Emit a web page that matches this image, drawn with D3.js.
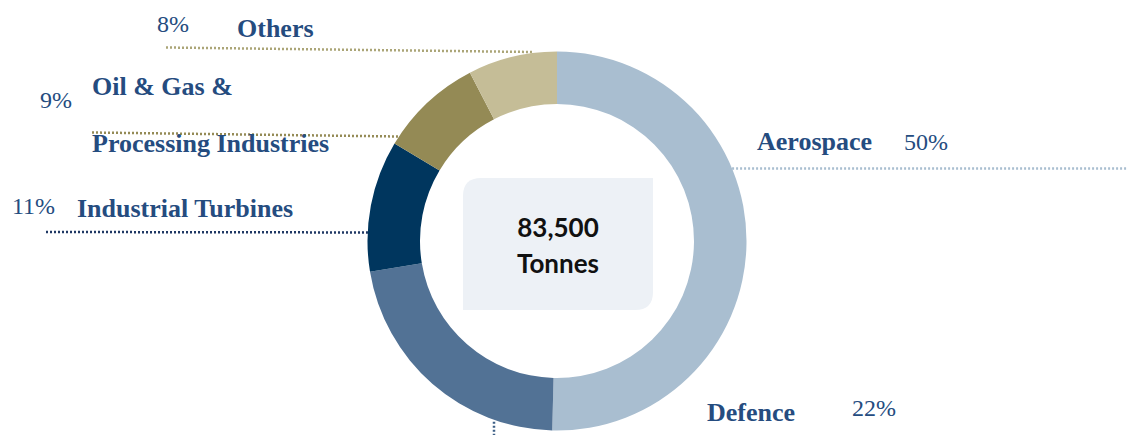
<!DOCTYPE html>
<html>
<head>
<meta charset="utf-8">
<script src="https://cdn.jsdelivr.net/npm/d3@7"></script>
<style>
  body { margin: 0; background: #fff; }
  svg { display: block; }
</style>
</head>
<body>
<div id="chart"></div>
<script>
// Data
var sectors = ["Aerospace", "Defence", "Industrial Turbines", "Oil & Gas & Processing Industries", "Others"];
var shares = [50.4, 22.0, 11.2, 8.8, 7.6];
var colors = ["#a9bed0", "#527295", "#00365e", "#948a55", "#c5bd97"];
var totalLabel = ["83,500", "Tonnes"];

var width = 1127;
var height = 435;
var cx = 557, cy = 241;
var outerR = 189.5, innerR = 137;
var labelColor = "#254c7f";

// label layout: text lines, percentage, leader line
var layout = [
    { lines: [{ t: "Aerospace", x: 757, y: 150 }], pct: { x: 904, y: 150 },
      leader: { y1: 168.5, y2: 168.5, far: 1127, side: "right", lineColor: "#a9bed0" } },
    { lines: [{ t: "Defence", x: 707, y: 421 }], pct: { x: 852, y: 416 },
      leader: { vertical: true, x: 494, y2: 436, lineColor: "#3d5f86" } },
    { lines: [{ t: "Industrial Turbines", x: 77, y: 217 }], pct: { x: 12, y: 214 },
      leader: { y1: 232, y2: 232.5, far: 46, side: "left", inset: 25, lineColor: "#1f3864" } },
    { lines: [{ t: "Oil & Gas &", x: 92, y: 95 }, { t: "Processing Industries", x: 92, y: 152 }], pct: { x: 40, y: 108 },
      leader: { y1: 132.5, y2: 136.5, far: 92, side: "left", lineColor: "#948a55" } },
    { lines: [{ t: "Others", x: 237, y: 37 }], pct: { x: 157, y: 32 },
      leader: { y1: 47.5, y2: 52, far: 166, side: "left", inset: -11, lineColor: "#aba577" } }
];

var svg = d3.select("#chart").append("svg")
    .attr("width", width)
    .attr("height", height);

var data = sectors.map(function(s, i) {
    return { sector: s, share: shares[i], color: colors[i], lay: layout[i] };
});

// point on outer ring at a given y
function ringX(y, side) {
    var dy = y - cy;
    var dx = Math.sqrt(Math.max(0, outerR * outerR - dy * dy));
    return side === "left" ? cx - dx : cx + dx;
}

// Leader lines (behind the ring)
var leaders = svg.append("g").attr("class", "leaders");
data.forEach(function(d) {
    var L = d.lay.leader;
    var x1, y1, x2, y2;
    if (L.vertical) {
        x1 = L.x; x2 = L.x;
        y1 = cy + Math.sqrt(outerR * outerR - (L.x - cx) * (L.x - cx)) + 2;
        y2 = L.y2;
    } else {
        x1 = L.far; y1 = L.y1;
        x2 = ringX(L.y2, L.side) + (L.side === "left" ? (L.inset || 0) : -(L.inset || 0));
        y2 = L.y2;
        if (L.side === "right") { var t = x1; x1 = x2; x2 = t; }
    }
    leaders.append("line")
        .attr("x1", x1).attr("y1", y1)
        .attr("x2", x2).attr("y2", y2)
        .attr("stroke", L.lineColor)
        .attr("stroke-width", 2.5)
        .attr("stroke-dasharray", "2,2");
});

// Donut
var pie = d3.pie().sort(null).value(function(d) { return d.share; });
var arc = d3.arc().innerRadius(innerR).outerRadius(outerR);

svg.append("g")
    .attr("transform", "translate(" + cx + "," + cy + ")")
    .selectAll("path")
    .data(pie(data))
    .enter()
    .append("path")
    .attr("d", arc)
    .attr("fill", function(d) { return d.data.color; });

// Centre box, rounded top-left and bottom-right
var bx = 463, by = 178, bw = 190, bh = 132, br = 18;
var boxPath = d3.path();
boxPath.moveTo(bx + br, by);
boxPath.lineTo(bx + bw, by);
boxPath.lineTo(bx + bw, by + bh - br);
boxPath.quadraticCurveTo(bx + bw, by + bh, bx + bw - br, by + bh);
boxPath.lineTo(bx, by + bh);
boxPath.lineTo(bx, by + br);
boxPath.quadraticCurveTo(bx, by, bx + br, by);
boxPath.closePath();
svg.append("path")
    .attr("d", boxPath.toString())
    .attr("fill", "#edf1f6");

svg.selectAll(".total")
    .data(totalLabel)
    .enter()
    .append("text")
    .attr("class", "total")
    .attr("x", cx + 1)
    .attr("y", function(d, i) { return 237 + i * 36; })
    .attr("text-anchor", "middle")
    .style("font-family", "Lato, 'Open Sans', sans-serif")
    .style("font-weight", "bold")
    .style("font-size", "26px")
    .style("fill", "#111")
    .text(function(d) { return d; });

// Labels
var labels = svg.append("g").attr("class", "labels");
data.forEach(function(d) {
    d.lay.lines.forEach(function(l) {
        labels.append("text")
            .attr("x", l.x)
            .attr("y", l.y)
            .style("font-family", "'Liberation Serif', 'Times New Roman', serif")
            .style("font-weight", "bold")
            .style("font-size", "26px")
            .style("fill", labelColor)
            .text(l.t);
    });
    labels.append("text")
        .attr("x", d.lay.pct.x)
        .attr("y", d.lay.pct.y)
        .style("font-family", "'Liberation Serif', 'Times New Roman', serif")
        .style("font-size", "24px")
        .style("fill", labelColor)
        .text(Math.round(d.share) + "%");
});
</script>
</body>
</html>
